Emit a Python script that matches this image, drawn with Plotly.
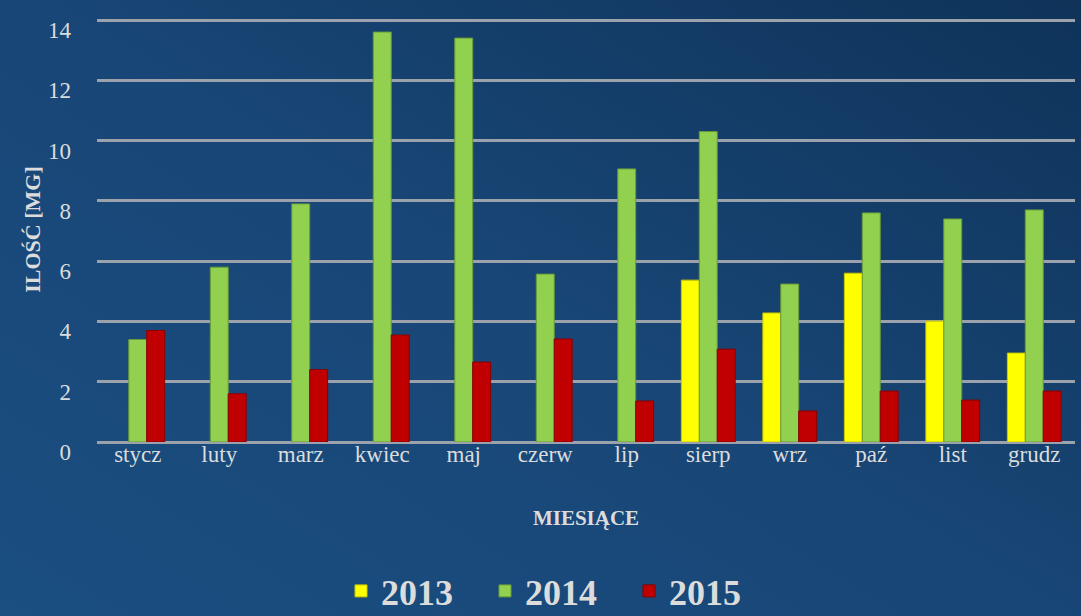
import plotly.graph_objects as go
import base64

months = ["stycz", "luty", "marz", "kwiec", "maj", "czerw", "lip", "sierp", "wrz", "paź", "list", "grudz"]
v2013 = [None, None, None, None, None, None, None, 5.37, 4.28, 5.6, 4.01, 2.95]
v2014 = [3.4, 5.8, 7.9, 13.6, 13.4, 5.57, 9.06, 10.3, 5.24, 7.6, 7.4, 7.7]
v2015 = [3.7, 1.6, 2.4, 3.55, 2.65, 3.42, 1.36, 3.08, 1.03, 1.69, 1.39, 1.69]
yticks = [0, 2, 4, 6, 8, 10, 12, 14]

FONT = "Liberation Serif"
TXT = "#dcdcdc"

svg = ('<svg xmlns="http://www.w3.org/2000/svg" width="1200" height="700" preserveAspectRatio="none">'
       '<defs><linearGradient id="g" x1="0" y1="1" x2="1" y2="0">'
       '<stop offset="0" stop-color="#1b4f82"/><stop offset="0.5" stop-color="#184676"/>'
       '<stop offset="1" stop-color="#0e3156"/></linearGradient></defs>'
       '<rect width="1200" height="700" fill="url(#g)"/></svg>')
src = "data:image/svg+xml;base64," + base64.b64encode(svg.encode()).decode()

L, R, T, B = 97, 6, 17, 174
W = 1081 - L - R
H = 616 - T - B
PAD = 40

fig = go.Figure()
for name, vals, col, edge in [("2013", v2013, "#ffff00", "#c8c800"),
                              ("2014", v2014, "#92d050", "#6a9a38"),
                              ("2015", v2015, "#c00000", "#8a0000")]:
    fig.add_trace(go.Bar(x=months, y=vals, name=name,
                         marker=dict(color=col, line=dict(color=edge, width=1))))

fig.update_layout(
    width=1081, height=616,
    margin=dict(l=L, r=R, t=T, b=B),
    paper_bgcolor="#184a7b",
    plot_bgcolor="rgba(0,0,0,0)",
    barmode="group", bargap=0.34, bargroupgap=0,
    font=dict(family=FONT, color=TXT),
    images=[dict(source=src, xref="paper", yref="paper",
                 x=-(L + PAD) / W, y=1 + (T + PAD) / H,
                 sizex=(1081 + 2 * PAD) / W, sizey=(616 + 2 * PAD) / H,
                 sizing="stretch", layer="below", xanchor="left", yanchor="top")],
    legend=dict(orientation="h", xref="container", yref="container",
                x=341 / 1081, xanchor="left", y=(616 - 591) / 616, yanchor="middle",
                font=dict(family=FONT, size=36, color=TXT, weight="bold"),
                entrywidth=99, entrywidthmode="pixels",
                traceorder="normal", itemwidth=30,
                bgcolor="rgba(0,0,0,0)"),
    showlegend=True,
)
fig.update_xaxes(
    showgrid=False, showline=False, zeroline=False,
    tickfont=dict(family=FONT, size=23, color=TXT),
    ticklabelstandoff=-4,
    title=dict(text="MIESIĄCE", font=dict(family=FONT, size=21, color=TXT, weight="bold"), standoff=44),
    automargin=False,
)
fig.update_yaxes(
    range=[0, 14.1], tickvals=yticks, ticktext=[str(v) for v in yticks],
    showgrid=True, gridcolor="#9ca2ab", gridwidth=2.5,
    zeroline=True, zerolinecolor="#9ca2ab", zerolinewidth=2.5,
    showline=False,
    tickfont=dict(family=FONT, size=23, color=TXT),
    ticklabelstandoff=25, ticklabelshift=10, ticklabeloverflow="allow",
    title=dict(text="ILOŚĆ [MG]", font=dict(family=FONT, size=22, color=TXT, weight="bold"), standoff=1),
    automargin=False,
)

fig.write_html("out.html", config={"displayModeBar": False},
               post_script="document.body.style.margin='0';document.body.style.background='#184a7b';")
